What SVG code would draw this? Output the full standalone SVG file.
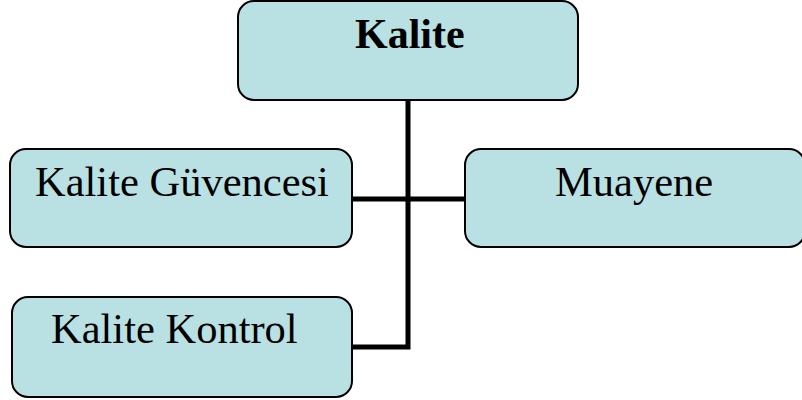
<svg xmlns="http://www.w3.org/2000/svg" width="802" height="400" viewBox="0 0 802 400">
<style>
.box{fill:#b9e0e3;stroke:#000;stroke-width:2}
.t{font-family:"Liberation Serif","Times New Roman",serif;font-size:42.5px;fill:#000}
.b{font-weight:bold;font-size:42px}
.c{fill:none;stroke:#000;stroke-width:5}
</style>
<rect width="802" height="400" fill="#fff"/>
<g id="connectors">
<path class="c" d="M408 100 V347 H352"/>
<path class="c" d="M352 199 H465"/>
</g>
<g id="kalite">
<rect class="box" x="238" y="1" width="340" height="99" rx="16"/>
<text class="t b" x="355" y="48">Kalite</text>
</g>
<g id="guvence">
<rect class="box" x="10" y="149" width="342" height="98" rx="16"/>
<text class="t" x="35" y="196">Kalite Güvencesi</text>
</g>
<g id="muayene">
<rect class="box" x="465" y="149" width="340" height="98" rx="16"/>
<text class="t" x="555" y="196">Muayene</text>
</g>
<g id="kontrol">
<rect class="box" x="12" y="297" width="340" height="100" rx="16"/>
<text class="t" x="51" y="343">Kalite Kontrol</text>
</g>
</svg>
